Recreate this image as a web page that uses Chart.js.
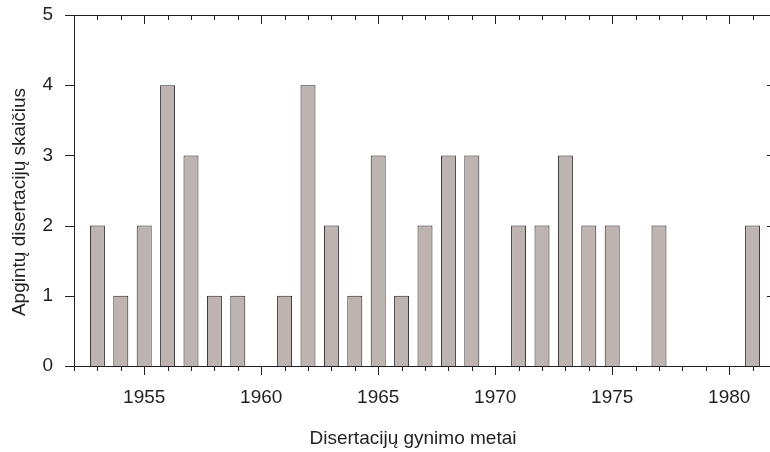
<!DOCTYPE html>
<html>
<head>
<meta charset="utf-8">
<script src="https://cdn.jsdelivr.net/npm/chart.js@4/dist/chart.umd.min.js"></script>
<style>
  html, body { margin: 0; padding: 0; overflow: hidden; background: #fff; }
  canvas { display: block; }
</style>
</head>
<body>
<canvas id="myChart" width="776" height="452"></canvas>
<script>
// data
const years = [1953, 1954, 1955, 1956, 1957, 1958, 1959, 1960, 1961, 1962, 1963, 1964, 1965, 1966, 1967,
  1968, 1969, 1970, 1971, 1972, 1973, 1974, 1975, 1976, 1977, 1978, 1979, 1980, 1981];
const counts = [2, 1, 2, 4, 3, 1, 1, 0, 1, 4, 2, 1, 3, 1, 2,
  3, 3, 0, 2, 2, 3, 2, 2, 0, 2, 0, 0, 0, 2];
const xTickYears = [1955, 1960, 1965, 1970, 1975, 1980];
const yTickValues = [0, 1, 2, 3, 4, 5];
const xTitle = "Disertacijų gynimo metai";
const yTitle = "Apgintų disertacijų skaičius";

const ink = "#231f20";
const fontFamily = "'Liberation Sans', Arial, sans-serif";

// frame, in/out tick marks and axis titles
const framePlugin = {
  id: "frame",
  afterDraw(chart) {
    const { ctx, chartArea: a, scales: { x, y } } = chart;
    ctx.save();
    ctx.strokeStyle = ink;
    ctx.lineWidth = 1;
    ctx.beginPath();
    ctx.rect(Math.round(a.left) + 0.5, Math.round(a.top) + 0.5,
      Math.round(a.right - a.left), Math.round(a.bottom - a.top));
    ctx.stroke();

    ctx.beginPath();
    for (let yr = x.min; yr <= x.max; yr++) {
      const px = Math.round(x.getPixelForValue(yr)) + 0.5;
      const len = yr % 5 === 0 ? 9 : 5;
      ctx.moveTo(px, a.bottom);
      ctx.lineTo(px, a.bottom + len);
      ctx.moveTo(px, a.top);
      ctx.lineTo(px, a.top + len);
    }
    yTickValues.forEach(v => {
      const py = Math.round(y.getPixelForValue(v)) + 0.5;
      ctx.moveTo(a.left, py);
      ctx.lineTo(a.left - 9, py);
      ctx.moveTo(a.right, py);
      ctx.lineTo(a.right - 9, py);
    });
    ctx.stroke();

    ctx.fillStyle = ink;
    ctx.font = "19px " + fontFamily;
    ctx.textAlign = "center";
    ctx.textBaseline = "alphabetic";
    ctx.fillText(xTitle, 413, 444);
    ctx.translate(25, 202);
    ctx.rotate(-Math.PI / 2);
    ctx.fillText(yTitle, 0, 0);
    ctx.restore();
  }
};

new Chart(document.getElementById("myChart"), {
  type: "bar",
  data: {
    datasets: [{
      data: years.map((yr, i) => ({ x: yr, y: counts[i] })),
      backgroundColor: "#bdb3b0",
      borderColor: ink,
      borderWidth: 1,
      borderSkipped: "start",
      barPercentage: 0.8,
      categoryPercentage: 0.8
    }]
  },
  options: {
    responsive: false,
    animation: false,
    layout: { padding: { top: 15, left: 0, right: 0, bottom: 0 } },
    plugins: { legend: { display: false }, tooltip: { enabled: false } },
    scales: {
      x: {
        type: "linear",
        min: 1952,
        max: 1982,
        offset: false,
        grid: { display: false, drawTicks: false },
        border: { display: false },
        afterBuildTicks: s => { s.ticks = xTickYears.map(v => ({ value: v })); },
        afterFit: s => { s.height = 86; s.paddingLeft = 0; s.paddingRight = 0; },
        ticks: {
          padding: 20,
          maxRotation: 0,
          color: ink,
          font: { family: fontFamily, size: 19 },
          callback: v => String(v)
        }
      },
      y: {
        min: 0,
        max: 5,
        grid: { display: false, drawTicks: false },
        border: { display: false },
        afterBuildTicks: s => { s.ticks = yTickValues.map(v => ({ value: v })); },
        afterFit: s => { s.width = 74; s.paddingTop = 0; s.paddingBottom = 0; },
        ticks: {
          padding: 21,
          color: ink,
          font: { family: fontFamily, size: 19 }
        }
      }
    }
  },
  plugins: [framePlugin]
});
</script>
</body>
</html>
